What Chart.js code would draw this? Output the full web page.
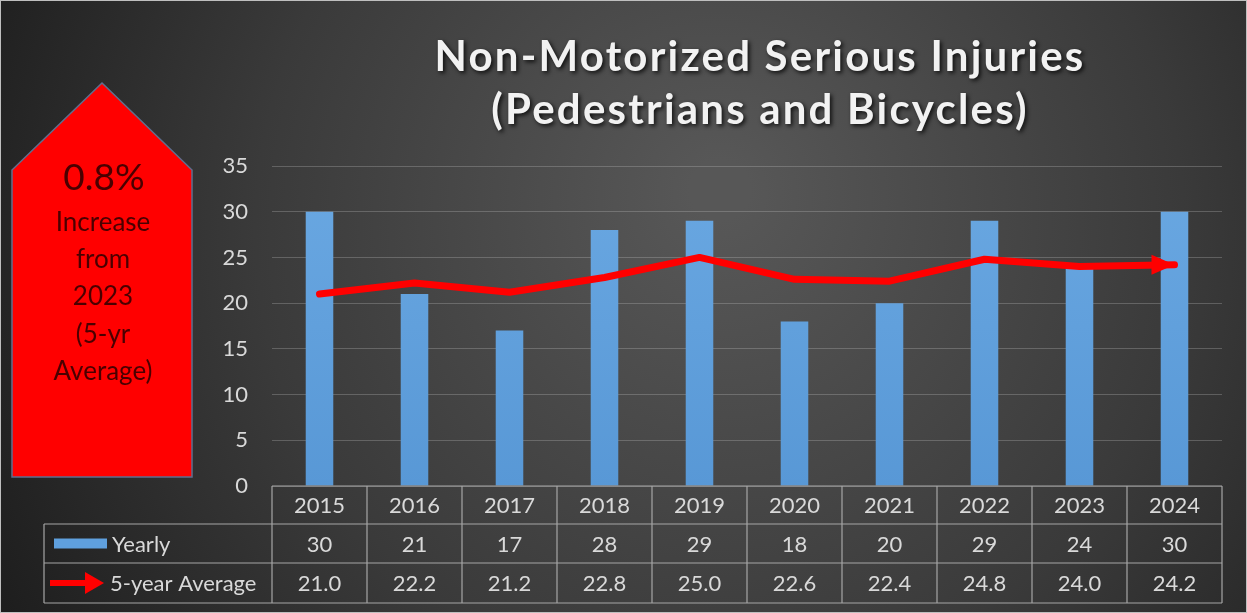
<!DOCTYPE html>
<html>
<head>
<meta charset="utf-8">
<script src="https://cdn.jsdelivr.net/npm/chart.js@4"></script>
<style>
  html, body { margin: 0; padding: 0; background: #2a2a2a; }
  #wrap { width: 1247px; height: 613px; position: relative; }
</style>
</head>
<body>
<div id="wrap"><canvas id="chart" width="1247" height="613"></canvas></div>
<script>
const years = ["2015", "2016", "2017", "2018", "2019", "2020", "2021", "2022", "2023", "2024"];
const yearly = [30, 21, 17, 28, 29, 18, 20, 29, 24, 30];
const fiveYearAvg = [21.0, 22.2, 21.2, 22.8, 25.0, 22.6, 22.4, 24.8, 24.0, 24.2];
const yTicks = [0, 5, 10, 15, 20, 25, 30, 35];
const titleLines = ["Non-Motorized Serious Injuries", "(Pedestrians and Bicycles)"];
const calloutLines = ["0.8%", "Increase", "from", "2023", "(5-yr", "Average)"];

const FONT = "Lato, 'Open Sans', sans-serif";
const TEXT = "#d9d9d9";

// background, title and the red callout
const backdrop = {
  id: "backdrop",
  beforeDraw(chart) {
    const ctx = chart.ctx;
    const w = chart.width, h = chart.height;
    ctx.save();
    const g = ctx.createRadialGradient(720, 190, 30, 720, 260, 820);
    g.addColorStop(0, "#575757");
    g.addColorStop(0.55, "#3a3a3a");
    g.addColorStop(1, "#1c1c1c");
    ctx.fillStyle = g;
    ctx.fillRect(0, 0, w, h);
    ctx.strokeStyle = "#bfbfbf";
    ctx.lineWidth = 1;
    ctx.strokeRect(0.5, 0.5, w - 1, h - 1);
    ctx.restore();
  },
  afterDraw(chart) {
    const ctx = chart.ctx;
    ctx.save();

    // title
    ctx.font = "bold 42px " + FONT;
    ctx.letterSpacing = "2.2px";
    ctx.textAlign = "center";
    ctx.textBaseline = "middle";
    ctx.shadowColor = "rgba(0,0,0,0.8)";
    ctx.shadowBlur = 4;
    ctx.shadowOffsetX = 2;
    ctx.shadowOffsetY = 2;
    ctx.fillStyle = "#f2f2f2";
    ctx.fillText(titleLines[0], 760, 57);
    ctx.fillText(titleLines[1], 760, 110);
    ctx.shadowColor = "transparent";
    ctx.letterSpacing = "0px";

    // up arrow callout
    ctx.beginPath();
    ctx.moveTo(102, 83);
    ctx.lineTo(192, 170);
    ctx.lineTo(192, 477);
    ctx.lineTo(12, 477);
    ctx.lineTo(12, 170);
    ctx.closePath();
    ctx.fillStyle = "#ff0000";
    ctx.fill();
    ctx.strokeStyle = "#5f6f8f";
    ctx.lineWidth = 1.5;
    ctx.stroke();

    ctx.fillStyle = "#4a0000";
    ctx.font = "37px " + FONT;
    ctx.fillText(calloutLines[0], 104, 178);
    ctx.font = "26px " + FONT;
    const ys = [223, 260, 297, 335, 372];
    for (let i = 1; i < calloutLines.length; i++) {
      ctx.fillText(calloutLines[i], 103, ys[i - 1]);
    }
    ctx.restore();
  }
};

// arrow head on the end of the average line
const arrowHead = {
  id: "arrowHead",
  afterDatasetsDraw(chart) {
    const meta = chart.getDatasetMeta(1);
    const pts = meta.data;
    if (!pts.length) return;
    const p = pts[pts.length - 1];
    const ctx = chart.ctx;
    ctx.save();
    ctx.fillStyle = "#ff0000";
    ctx.beginPath();
    ctx.moveTo(p.x, p.y);
    ctx.lineTo(p.x - 23, p.y - 10);
    ctx.lineTo(p.x - 23, p.y + 10);
    ctx.closePath();
    ctx.fill();
    ctx.restore();
  }
};

// data table under the plot
const dataTable = {
  id: "dataTable",
  afterDraw(chart) {
    const ctx = chart.ctx;
    const x = chart.scales.x;
    const area = chart.chartArea;
    const left = 44;
    const rows = [area.bottom, 524, 563, 603];
    const step = (area.right - area.left) / years.length;

    ctx.save();
    ctx.strokeStyle = "#a6a6a6";
    ctx.lineWidth = 1.2;

    // horizontal lines
    ctx.beginPath();
    ctx.moveTo(area.left, rows[0]);
    ctx.lineTo(area.right, rows[0]);
    for (let r = 1; r < rows.length; r++) {
      ctx.moveTo(left, rows[r]);
      ctx.lineTo(area.right, rows[r]);
    }
    // vertical lines
    ctx.moveTo(left, rows[1]);
    ctx.lineTo(left, rows[3]);
    for (let i = 0; i <= years.length; i++) {
      const vx = area.left + i * step;
      ctx.moveTo(vx, rows[0]);
      ctx.lineTo(vx, rows[3]);
    }
    ctx.stroke();

    ctx.fillStyle = TEXT;
    ctx.font = "22px " + FONT;
    ctx.textAlign = "center";
    ctx.textBaseline = "middle";
    years.forEach(function (yr, i) {
      const cx = x.getPixelForValue(i);
      ctx.fillText(yr, cx, (rows[0] + rows[1]) / 2 + 1);
      ctx.fillText(String(yearly[i]), cx, (rows[1] + rows[2]) / 2 + 1);
      ctx.fillText(fiveYearAvg[i].toFixed(1), cx, (rows[2] + rows[3]) / 2 + 1);
    });

    // legend keys
    const y1 = (rows[1] + rows[2]) / 2;
    const y2 = (rows[2] + rows[3]) / 2;
    ctx.fillStyle = "#5fa0de";
    ctx.fillRect(54, y1 - 5, 53, 10);
    ctx.strokeStyle = "#ff0000";
    ctx.lineWidth = 6;
    ctx.beginPath();
    ctx.moveTo(50, y2);
    ctx.lineTo(88, y2);
    ctx.stroke();
    ctx.fillStyle = "#ff0000";
    ctx.beginPath();
    ctx.moveTo(104, y2);
    ctx.lineTo(85, y2 - 11);
    ctx.lineTo(85, y2 + 11);
    ctx.closePath();
    ctx.fill();

    ctx.fillStyle = TEXT;
    ctx.textAlign = "left";
    ctx.fillText("Yearly", 112, y1 + 1);
    ctx.fillText("5-year Average", 110, y2 + 1);
    ctx.restore();
  }
};

const canvas = document.getElementById("chart");
const ctx = canvas.getContext("2d");

const barFill = ctx.createLinearGradient(0, 166, 0, 486);
barFill.addColorStop(0, "#6aa8e2");
barFill.addColorStop(1, "#5898d6");

new Chart(ctx, {
  type: "bar",
  data: {
    labels: years,
    datasets: [
      {
        type: "bar",
        label: "Yearly",
        data: yearly,
        backgroundColor: barFill,
        borderWidth: 0,
        barPercentage: 0.29,
        categoryPercentage: 1,
        order: 2
      },
      {
        type: "line",
        label: "5-year Average",
        data: fiveYearAvg,
        borderColor: "#ff0000",
        borderWidth: 7,
        pointRadius: 0,
        tension: 0,
        fill: false,
        borderCapStyle: "round",
        borderJoinStyle: "round",
        order: 1
      }
    ]
  },
  options: {
    responsive: false,
    animation: false,
    layout: {
      padding: { top: 166, bottom: 127, left: 0, right: 25 }
    },
    plugins: {
      legend: { display: false },
      tooltip: { enabled: false }
    },
    scales: {
      x: {
        display: false,
        grid: { display: false }
      },
      y: {
        min: 0,
        max: 35,
        afterBuildTicks: function (scale) {
          scale.ticks = yTicks.map(function (v) { return { value: v }; });
        },
        afterFit: function (scale) {
          scale.width = 272;
        },
        border: { display: false },
        grid: {
          color: "rgba(200,200,200,0.28)",
          lineWidth: 1,
          drawTicks: false
        },
        ticks: {
          color: TEXT,
          padding: 24,
          font: { family: FONT, size: 22 }
        }
      }
    }
  },
  plugins: [backdrop, arrowHead, dataTable]
});
</script>
</body>
</html>
